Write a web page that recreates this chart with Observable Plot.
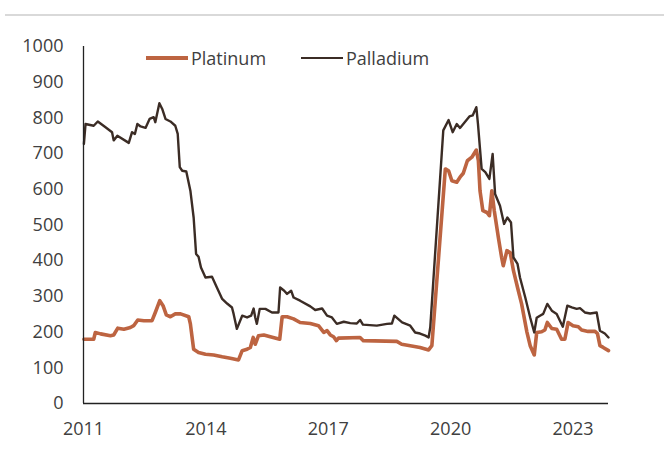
<!DOCTYPE html>
<html>
<head>
<meta charset="utf-8">
<script src="https://cdn.jsdelivr.net/npm/d3@7"></script>
<script src="https://cdn.jsdelivr.net/npm/@observablehq/plot@0.6"></script>
<style>
  html, body { margin: 0; padding: 0; background: #fff; }
  #wrap { position: relative; width: 664px; height: 455px; font-family: "Open Sans", sans-serif; color: #404040; }
  #topline { position: absolute; left: 5px; right: 0; top: 14px; height: 2px; background: #d9d9d9; }
  .leg { position: absolute; top: 47px; display: flex; align-items: center; font-size: 18px; line-height: 22px; color: #404040; }
  .sw { display: inline-block; width: 42px; margin-right: 3px; }
  svg { display: block; }
</style>
</head>
<body>
<div id="wrap">
  <div id="topline"></div>
  <div id="chart"></div>
  <div class="leg" style="left:146px"><span class="sw" style="height:4px;background:#BD6441"></span>Platinum</div>
  <div class="leg" style="left:301px"><span class="sw" style="height:2.5px;background:#3B2C25"></span>Palladium</div>
</div>
<script>
const xTicks = [2011, 2014, 2017, 2020, 2023];
const yTicks = [0, 100, 200, 300, 400, 500, 600, 700, 800, 900, 1000];

const platinumYears = [2011.01,2011.25,2011.29,2011.42,2011.66,2011.74,2011.84,2011.99,2012.15,2012.23,2012.33,2012.48,2012.68,2012.76,2012.87,2012.95,2013.03,2013.13,2013.25,2013.38,2013.58,2013.62,2013.70,2013.82,2013.99,2014.19,2014.40,2014.60,2014.80,2014.89,2015.01,2015.09,2015.16,2015.21,2015.29,2015.42,2015.58,2015.81,2015.87,2015.99,2016.15,2016.31,2016.56,2016.76,2016.89,2016.97,2017.05,2017.13,2017.20,2017.25,2017.78,2017.86,2018.68,2018.80,2019.01,2019.25,2019.46,2019.54,2019.87,2019.95,2020.03,2020.15,2020.23,2020.31,2020.41,2020.52,2020.63,2020.68,2020.72,2020.79,2020.89,2020.95,2021.01,2021.07,2021.17,2021.25,2021.29,2021.38,2021.46,2021.54,2021.64,2021.74,2021.87,2021.95,2022.05,2022.11,2022.23,2022.31,2022.37,2022.48,2022.60,2022.72,2022.80,2022.88,2023.00,2023.13,2023.21,2023.37,2023.54,2023.60,2023.66,2023.74,2023.87];
const platinumValues = [180,180,199,195,190,192,211,208,213,218,234,232,232,255,288,274,248,243,251,251,243,223,152,143,138,136,131,127,122,148,152,157,185,166,190,192,187,180,243,243,237,227,224,218,199,204,192,187,176,183,185,176,174,166,162,157,150,162,657,652,624,620,634,645,680,690,710,680,596,540,535,526,596,540,465,409,386,428,423,372,325,279,200,162,136,199,201,206,227,210,208,180,180,227,218,215,206,202,202,196,162,157,148];

const palladiumYears = [2011.01,2011.05,2011.25,2011.35,2011.54,2011.70,2011.74,2011.83,2012.11,2012.19,2012.26,2012.32,2012.40,2012.52,2012.62,2012.72,2012.76,2012.86,2012.93,2013.01,2013.13,2013.25,2013.31,2013.36,2013.42,2013.52,2013.62,2013.70,2013.76,2013.82,2013.88,2013.99,2014.15,2014.27,2014.40,2014.52,2014.64,2014.68,2014.76,2014.89,2015.01,2015.11,2015.17,2015.21,2015.25,2015.32,2015.46,2015.62,2015.78,2015.82,2015.92,2015.99,2016.09,2016.15,2016.31,2016.56,2016.68,2016.85,2016.97,2017.09,2017.21,2017.38,2017.54,2017.70,2017.78,2017.85,2018.19,2018.44,2018.56,2018.62,2018.81,2019.01,2019.13,2019.25,2019.38,2019.46,2019.50,2019.82,2019.95,2020.05,2020.15,2020.23,2020.31,2020.46,2020.54,2020.63,2020.67,2020.76,2020.85,2020.95,2021.03,2021.09,2021.21,2021.31,2021.39,2021.48,2021.54,2021.64,2021.70,2021.83,2021.95,2022.05,2022.11,2022.19,2022.27,2022.37,2022.48,2022.60,2022.75,2022.86,2022.97,2023.09,2023.17,2023.29,2023.42,2023.58,2023.66,2023.78,2023.87];
const palladiumValues = [727,783,778,790,774,760,737,750,730,760,755,783,776,772,797,802,788,841,825,797,790,778,755,662,652,650,596,521,419,411,381,353,355,325,293,280,269,251,209,246,241,246,266,241,223,265,265,255,255,325,316,307,316,297,288,272,262,266,246,241,223,229,225,224,234,221,218,223,224,246,227,218,199,196,190,185,213,765,794,760,783,772,783,804,807,830,783,657,648,629,699,587,554,503,521,507,409,391,353,297,241,199,240,246,251,279,260,251,215,274,269,265,267,255,252,255,204,196,185];

const platinum = platinumYears.map((t, i) => ({t, v: platinumValues[i]}));
const palladium = palladiumYears.map((t, i) => ({t, v: palladiumValues[i]}));

const chart = Plot.plot({
  width: 664,
  height: 455,
  marginLeft: 83,
  marginRight: 56,
  marginTop: 46,
  marginBottom: 52,
  style: {fontFamily: "Open Sans, sans-serif", fontSize: "18px", color: "#404040", background: "transparent"},
  x: {type: "linear", domain: [2011, 2023.87], label: null},
  y: {domain: [0, 1000], label: null},
  marks: [
    Plot.axisY({ticks: yTicks, tickSize: 0, tickPadding: 20, tickFormat: d => String(d), fill: "#404040", label: null}),
    Plot.axisX({ticks: xTicks, tickSize: 0, tickPadding: 19, tickFormat: d => String(d), fill: "#404040", label: null}),
    Plot.line(platinum, {x: "t", y: "v", stroke: "#BD6441", strokeWidth: 3.6, strokeLinejoin: "round"}),
    Plot.line(palladium, {x: "t", y: "v", stroke: "#3B2C25", strokeWidth: 2.4, strokeLinejoin: "round"}),
    Plot.ruleY([0], {stroke: "#222", strokeWidth: 1.3}),
    Plot.ruleX([2011], {stroke: "#222", strokeWidth: 1.3})
  ]
});
document.getElementById("chart").appendChild(chart);
</script>
</body>
</html>
